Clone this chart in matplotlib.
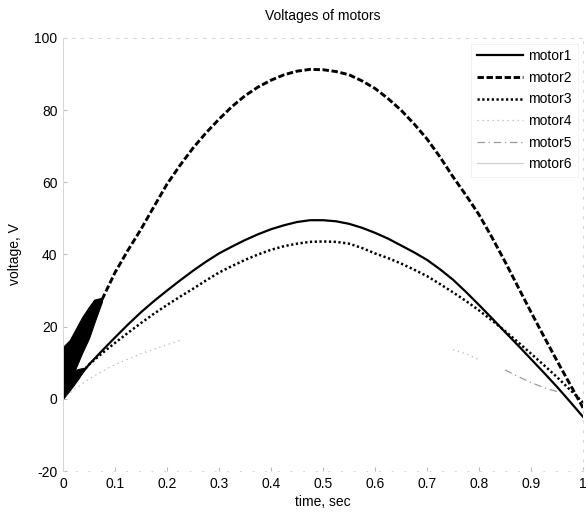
import numpy as np
import matplotlib
matplotlib.use('Agg')
import matplotlib.pyplot as plt

nan = np.nan

# time grid (sec), 0.025 s step
t = [round(0.025 * i, 3) for i in range(41)]

# voltages (V)
motor1 = [0.0, 5.0, 9.5, 13.3, 17.0, 20.6, 24.0, 27.1, 30.0, 32.8, 35.5,
          38.0, 40.3, 42.2, 44.0, 45.6, 47.0, 48.1, 49.0, 49.5, 49.5,
          49.2, 48.5, 47.4, 46.0, 44.4, 42.5, 40.6, 38.5, 35.9, 33.0,
          29.6, 26.0, 22.3, 18.5, 14.8, 11.0, 7.2, 3.3, -0.8, -5.0]
motor2 = [0.0, 10.0, 19.5, 27.5, 35.0, 41.2, 47.0, 53.3, 59.5, 64.7, 69.5,
          73.7, 77.5, 81.0, 84.0, 86.4, 88.3, 89.8, 90.8, 91.3, 91.2,
          90.7, 89.8, 88.1, 86.0, 83.2, 80.0, 76.2, 72.0, 67.0, 61.5,
          56.4, 51.0, 44.7, 38.0, 31.0, 24.0, 17.2, 10.5, 4.0, -2.5]
motor3 = [0.0, 5.5, 9.5, 12.6, 15.5, 18.3, 21.0, 23.6, 26.0, 28.3, 30.5,
          32.8, 35.0, 36.8, 38.5, 40.0, 41.3, 42.3, 43.0, 43.5, 43.6,
          43.5, 43.0, 41.8, 40.3, 39.0, 37.5, 35.8, 34.0, 31.8, 29.5,
          27.1, 24.5, 21.7, 18.8, 15.7, 12.5, 9.3, 6.0, 2.5, -1.0]
# faint traces, only partly legible in the scan
motor4 = [0.0, 3.0, 5.5, 7.6, 9.5, 11.0, 12.5, 13.8, 15.0, 16.2, nan,
          nan, nan, nan, nan, nan, nan, nan, nan, nan, nan,
          nan, nan, nan, nan, nan, nan, nan, nan, nan, 13.6,
          12.5, 10.8, nan, nan, nan, nan, nan, nan, nan, nan]
motor5 = [nan] * 34 + [8.0, 6.2, 4.5, 3.1, 2.0, nan, nan]
motor6 = [nan] * 41

# start-up ripple band near t = 0 (lower / upper envelope)
ripple2_t = [0.0, 0.013, 0.025, 0.037, 0.05, 0.06, 0.075]
ripple2_lo = [0.0, 4.5, 8.7, 12.8, 16.8, 21.0, 27.0]
ripple2_hi = [14.4, 16.3, 19.5, 22.7, 25.5, 27.5, 28.0]
ripple1_t = [0.0, 0.01, 0.02, 0.03, 0.04]
ripple1_lo = [0.0, 1.8, 3.7, 5.7, 8.0]
ripple1_hi = [3.5, 6.0, 7.8, 8.3, 8.6]

plt.rcParams['font.family'] = ['Liberation Sans', 'DejaVu Sans']
plt.rcParams['font.size'] = 10
plt.rcParams['axes.unicode_minus'] = False

fig = plt.figure(figsize=(5.86, 5.16), dpi=100)
ax = fig.add_axes([0.1075, 0.0872, 0.8875, 0.8392])

ax.plot(t[1:], motor1[1:], color='black', lw=1.6, label='motor1')
ax.fill_between(ripple1_t, ripple1_lo, ripple1_hi, color='black', lw=0.8)
ax.plot(t[3:], motor2[3:], color='black', lw=2.1, dashes=(2.2, 0.9),
        label='motor2')
ax.fill_between(ripple2_t, ripple2_lo, ripple2_hi, color='black', lw=0.8)
ax.plot(t, motor3, color='black', lw=1.8, dashes=(0.9, 1.0), label='motor3')
ax.plot(t, motor4, color='#b5b5b5', lw=0.9, dashes=(1, 3), label='motor4')
ax.plot(t, motor5, color='#9a9a9a', lw=0.9, dashes=(6, 3, 1, 3),
        label='motor5')
ax.plot(t, motor6, color='#d0d0d0', lw=0.9, label='motor6')

ax.set_xlim(0, 1)
ax.set_ylim(-20, 100)
ax.set_xticks(np.arange(0, 1.01, 0.1))
ax.set_xticklabels(['0', '0.1', '0.2', '0.3', '0.4', '0.5', '0.6', '0.7',
                    '0.8', '0.9', '1'])
ax.set_yticks([-20, 0, 20, 40, 60, 80, 100])
ax.tick_params(direction='in', length=3, color='#bbbbbb', pad=4)

for side in ['top', 'right', 'bottom', 'left']:
    ax.spines[side].set_color('#d6d6d6')
    ax.spines[side].set_linewidth(0.7)
ax.spines['top'].set_linestyle((0, (3, 6)))
ax.spines['right'].set_linestyle((0, (2, 8)))
ax.spines['bottom'].set_linestyle((0, (1, 12)))

ax.set_title('Voltages of motors', fontsize=10, pad=13)
ax.set_xlabel('time, sec', labelpad=3)
ax.set_ylabel('voltage, V', labelpad=9)

leg = ax.legend(loc='upper right', handlelength=3.3, labelspacing=0.55,
                handletextpad=0.4, borderaxespad=0.4, fancybox=False,
                framealpha=1)
leg.get_frame().set_edgecolor('#f0f0f0')
leg.get_frame().set_linewidth(0.6)

fig.savefig('out.png', dpi=100)
